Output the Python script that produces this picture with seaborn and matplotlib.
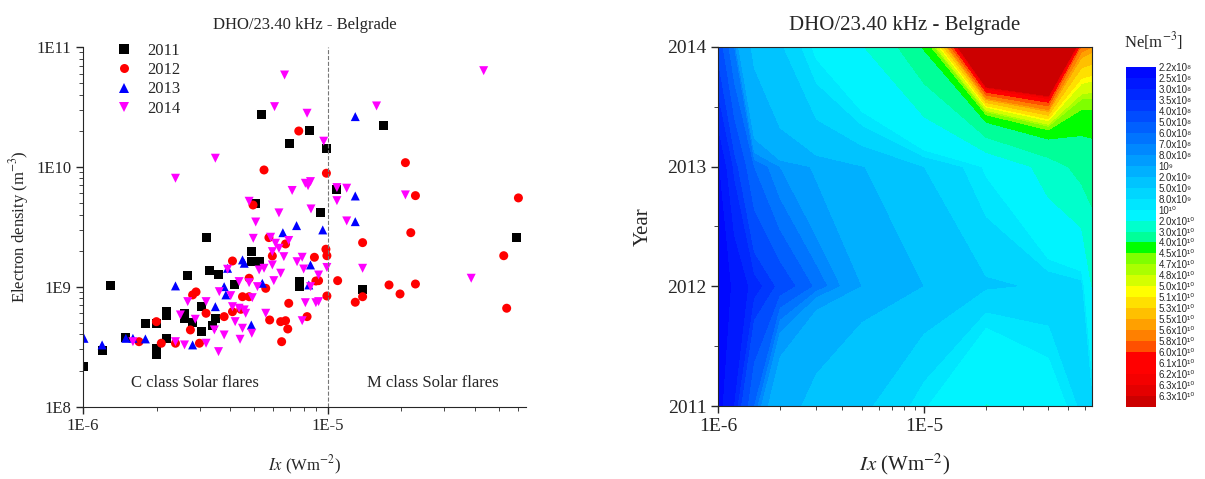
import numpy as np
import pandas as pd
import seaborn as sns
import matplotlib
matplotlib.use('Agg')
import matplotlib.pyplot as plt
from matplotlib.colors import ListedColormap, BoundaryNorm
from matplotlib.ticker import LogLocator, FixedLocator, FuncFormatter, NullFormatter

# ---- scatter data: log10(Ix) and log10(Ne) ----
years = ['2011', '2012', '2013', '2014']

lix_2011 = [-5.270, -5.073, -5.157, -5.005, -4.772, -5.294, -5.030, -5.497, -4.962, -4.226,
            -4.857, -5.312, -5.312, -5.278, -5.484, -5.446, -5.379, -5.115, -5.115, -5.517,
            -5.459, -5.470, -5.517, -5.886, -5.572, -5.660, -5.660, -5.585, -5.585, -5.552,
            -5.745, -5.700, -5.825, -5.657, -5.700, -5.700, -5.922, -5.999]
lne_2011 = [10.433, 10.299, 10.191, 10.155, 10.349, 9.696, 9.621, 9.411, 9.807, 9.413,
            8.973, 9.294, 9.207, 9.207, 9.136, 9.105, 9.015, 9.043, 9.001, 8.834,
            8.737, 8.681, 8.626, 9.009, 9.090, 8.792, 8.759, 8.779, 8.737, 8.701,
            8.696, 8.690, 8.579, 8.570, 8.487, 8.431, 8.467, 8.334]

lix_2012 = [-5.118, -5.260, -5.005, -5.305, -5.240, -4.682, -4.641, -4.220, -4.660, -4.857,
            -5.007, -5.003, -4.280, -5.037, -4.959, -4.749, -4.641, -4.704, -5.003, -4.857,
            -4.887, -4.268, -5.172, -5.226, -5.054, -5.253, -5.048, -5.159, -5.084, -5.237,
            -5.192, -5.172, -5.163, -5.188, -5.389, -5.321, -5.348, -5.321, -5.389, -5.355,
            -5.497, -5.423, -5.524, -5.552, -5.538, -5.561, -5.700, -5.771, -5.680, -5.622]
lne_2012 = [10.299, 9.974, 9.947, 9.682, 9.410, 10.035, 9.760, 9.741, 9.451, 9.368,
            9.313, 9.259, 9.259, 9.051, 9.051, 9.015, 9.023, 8.940, 8.923, 8.917,
            8.871, 8.821, 9.357, 9.257, 9.246, 8.987, 9.048, 8.862, 8.751, 8.723,
            8.709, 8.717, 8.648, 8.542, 9.215, 9.071, 8.917, 8.917, 8.792, 8.812,
            8.779, 8.751, 8.529, 8.932, 8.957, 8.640, 8.709, 8.542, 8.529, 8.529]

lix_2013 = [-5.127, -5.183, -5.020, -4.887, -4.887, -4.887, -5.070, -5.267, -5.077, -5.348,
            -5.341, -5.409, -5.423, -5.416, -5.459, -5.312, -5.622, -5.825, -5.796, -5.745,
            -5.552, -5.922, -5.996]
lne_2013 = [9.510, 9.451, 9.474, 10.419, 9.757, 9.543, 9.182, 9.029, 9.015, 9.224,
            9.196, 9.154, 9.001, 8.932, 8.834, 8.681, 9.007, 8.570, 8.570, 8.565,
            8.515, 8.515, 8.570]

lix_2014 = [-5.176, -5.217, -5.084, -5.016, -5.459, -5.622, -5.145, -5.091, -5.070, -5.080,
            -5.321, -5.199, -5.068, -5.294, -5.304, -5.159, -4.362, -4.800, -4.962, -4.922,
            -4.962, -4.682, -4.922, -5.003, -4.857, -5.037, -4.413, -5.037, -5.233, -5.213,
            -5.199, -5.226, -5.179, -5.104, -5.125, -5.226, -5.260, -5.098, -5.192, -5.220,
            -5.070, -5.091, -5.048, -5.253, -5.104, -5.409, -5.280, -5.362, -5.321, -5.287,
            -5.443, -5.396, -5.308, -5.497, -5.389, -5.362, -5.341, -5.335, -5.378, -5.348,
            -5.310, -5.463, -5.423, -5.497, -5.358, -5.446, -5.572, -5.602, -5.541, -5.796,
            -5.622, -5.585]
lne_2014 = [10.766, 10.502, 10.447, 10.214, 10.072, 9.905, 9.803, 9.863, 9.877, 9.843,
            9.713, 9.616, 9.649, 9.540, 9.404, 9.386, 10.802, 10.508, 9.827, 9.822,
            9.718, 9.766, 9.549, 9.161, 9.154, 9.098, 9.071, 8.876, 9.413, 9.363,
            9.321, 9.293, 9.251, 9.246, 9.209, 9.182, 9.154, 9.148, 9.113, 9.051,
            9.001, 8.867, 8.867, 8.779, 8.717, 9.146, 9.140, 9.043, 9.034, 9.001,
            8.959, 8.926, 8.909, 8.876, 8.834, 8.821, 8.807, 8.779, 8.709, 8.654,
            8.612, 8.640, 8.598, 8.529, 8.562, 8.459, 8.876, 8.765, 8.729, 8.542,
            8.542, 8.515]

# ---- contour data: Ne on an (Ix, year) grid ----
grid_ix = [1.0e-6, 1.2e-6, 1.5e-6, 2.0e-6, 3.0e-6, 5.0e-6, 1.0e-5, 2.0e-5, 4.0e-5, 5.8e-5, 6.5e-5]
grid_year = [2011, 2012, 2013, 2014]
ne_2011 = [2.3e8, 3.0e8, 6.0e8, 1.4e9, 2.5e9, 4.3e9, 9.5e9, 2.02e10, 1.3e10, 7.0e9, 5.5e9]
ne_2012 = [2.3e8, 2.55e8, 3.2e8, 4.2e8, 6.2e8, 1.0e9, 2.0e9, 4.5e9, 5.5e9, 6.5e9, 2.0e10]
ne_2013 = [2.4e8, 3.6e8, 6.0e8, 8.0e8, 1.05e9, 1.9e9, 5.0e9, 1.05e10, 2.5e10, 3.4e10, 3.5e10]
ne_2014 = [4.2e8, 7.0e8, 2.3e9, 4.5e9, 1.1e10, 1.95e10, 4.1e10, 9.0e10, 9.0e10, 5.7e10, 5.6e10]

ne_levels = [2.2e8, 2.5e8, 3.0e8, 3.5e8, 4.0e8, 5.0e8, 6.0e8, 7.0e8, 8.0e8, 1e9,
             2e9, 5e9, 8e9, 1e10, 2e10, 3e10, 4e10, 4.5e10, 4.7e10, 4.8e10,
             5.0e10, 5.1e10, 5.3e10, 5.5e10, 5.6e10, 5.8e10, 6.0e10, 6.1e10, 6.2e10, 6.3e10,
             6.35e10, 2e11]
ne_labels = ['2.2x10⁸', '2.5x10⁸', '3.0x10⁸', '3.5x10⁸', '4.0x10⁸', '5.0x10⁸', '6.0x10⁸',
             '7.0x10⁸', '8.0x10⁸', '10⁹', '2.0x10⁹', '5.0x10⁹', '8.0x10⁹', '10¹⁰',
             '2.0x10¹⁰', '3.0x10¹⁰', '4.0x10¹⁰', '4.5x10¹⁰', '4.7x10¹⁰', '4.8x10¹⁰',
             '5.0x10¹⁰', '5.1x10¹⁰', '5.3x10¹⁰', '5.5x10¹⁰', '5.6x10¹⁰', '5.8x10¹⁰',
             '6.0x10¹⁰', '6.1x10¹⁰', '6.2x10¹⁰', '6.3x10¹⁰', '6.3x10¹⁰']
band_colors = ['#0008ff', '#0018ff', '#0028ff', '#0038ff', '#004cff', '#0060ff', '#0074ff',
               '#0088ff', '#009cff', '#00b0ff', '#00c4ff', '#00d6ff', '#00e6ff', '#00f4ff',
               '#00ffcc', '#00ff99', '#00ff00', '#7fff00', '#aaff00', '#d4ff00', '#ffff00',
               '#ffe000', '#ffc000', '#ffa000', '#ff8000', '#ff5000', '#ff0000', '#ff0000',
               '#f40000', '#e40000', '#cc0000']

sns.set_style('ticks')
plt.rcParams['font.family'] = ['Liberation Serif', 'DejaVu Serif']
plt.rcParams['mathtext.fontset'] = 'stix'
plt.rcParams['xtick.direction'] = 'out'
plt.rcParams['ytick.direction'] = 'out'

fig = plt.figure(figsize=(12.05, 4.79), dpi=100)
ax1 = fig.add_axes([0.0689, 0.151, 0.368, 0.751])
ax2 = fig.add_axes([0.596, 0.1524, 0.310, 0.7495])
cax = fig.add_axes([0.9344, 0.1503, 0.0249, 0.7098])

# ---------------- left: scatter ----------------
frames = []
for yr, lx, ly in zip(years, [lix_2011, lix_2012, lix_2013, lix_2014],
                      [lne_2011, lne_2012, lne_2013, lne_2014]):
    frames.append(pd.DataFrame({'Ix': 10 ** np.array(lx), 'Ne': 10 ** np.array(ly), 'Year': yr}))
df = pd.concat(frames, ignore_index=True)

pal = dict(zip(years, ['black', 'red', 'blue', 'magenta']))
mk = dict(zip(years, ['s', 'o', '^', 'v']))
ax1.set_xscale('log')
ax1.set_yscale('log')
sns.scatterplot(data=df, x='Ix', y='Ne', hue='Year', style='Year', hue_order=years,
                style_order=years, palette=pal, markers=mk, s=42, linewidth=0, ax=ax1)
ax1.set_xlim(1e-6, 6.5e-5)
ax1.set_ylim(1e8, 1e11)
ax1.axvline(1e-5, color='#777777', ls='--', lw=0.8)
ax1.text(0.252, 0.055, 'C class Solar flares', transform=ax1.transAxes, ha='center', fontsize=12)
ax1.text(0.788, 0.055, 'M class Solar flares', transform=ax1.transAxes, ha='center', fontsize=12)
ax1.set_title('DHO/23.40 kHz - Belgrade', fontsize=12, pad=13)
ax1.set_xlabel(r'$\mathit{Ix}$ (Wm$^{-2}$)', fontsize=12, labelpad=14)
ax1.set_ylabel(r'Electron density (m$^{-3}$)', fontsize=12, labelpad=4)
ax1.xaxis.set_major_locator(FixedLocator([1e-6, 1e-5]))
ax1.xaxis.set_minor_locator(LogLocator(base=10, subs=np.arange(2, 10)))
ax1.xaxis.set_minor_formatter(NullFormatter())
ax1.xaxis.set_major_formatter(FuncFormatter(lambda v, _: '1E%d' % round(np.log10(v))))
ax1.yaxis.set_major_locator(FixedLocator([1e8, 1e9, 1e10, 1e11]))
ax1.yaxis.set_minor_locator(LogLocator(base=10, subs=np.arange(2, 10)))
ax1.yaxis.set_minor_formatter(NullFormatter())
ax1.yaxis.set_major_formatter(FuncFormatter(lambda v, _: '1E%d' % round(np.log10(v))))
ax1.tick_params(labelsize=12, length=5, width=1)
ax1.tick_params(which='minor', length=3)
sns.despine(ax=ax1)
ax1.legend(loc='upper left', bbox_to_anchor=(0.04, 1.03), frameon=False, fontsize=12,
           handletextpad=0.4, labelspacing=0.2, borderaxespad=0)

# ---------------- right: filled contour ----------------
X, Y = np.meshgrid(grid_ix, grid_year)
Z = np.array([ne_2011, ne_2012, ne_2013, ne_2014])
cmap = ListedColormap(band_colors)
norm = BoundaryNorm(ne_levels, ncolors=len(band_colors))
ax2.set_xscale('log')
cs = ax2.contourf(X, Y, Z, levels=ne_levels, cmap=cmap, norm=norm)
ax2.set_xlim(1e-6, 6.5e-5)
ax2.set_ylim(2011, 2014)
ax2.set_title('DHO/23.40 kHz - Belgrade', fontsize=15, pad=12)
ax2.set_xlabel(r'$\mathit{Ix}$ (Wm$^{-2}$)', fontsize=15, labelpad=12)
ax2.set_ylabel('Year', fontsize=15, labelpad=10)
ax2.xaxis.set_major_locator(FixedLocator([1e-6, 1e-5]))
ax2.xaxis.set_minor_locator(LogLocator(base=10, subs=np.arange(2, 10)))
ax2.xaxis.set_minor_formatter(NullFormatter())
ax2.xaxis.set_major_formatter(FuncFormatter(lambda v, _: '1E%d' % round(np.log10(v))))
ax2.yaxis.set_major_locator(FixedLocator(grid_year))
ax2.yaxis.set_minor_locator(FixedLocator([2011.5, 2012.5, 2013.5]))
ax2.tick_params(labelsize=14, length=5, width=1)
ax2.tick_params(which='minor', length=3)

cb = fig.colorbar(cs, cax=cax, spacing='uniform', ticks=ne_levels[:-1])
cb.ax.invert_yaxis()
cb.ax.minorticks_off()
cb.outline.set_visible(False)
cb.ax.set_yticklabels(ne_labels, fontsize=7, family=['Liberation Sans', 'DejaVu Sans'])
cb.ax.tick_params(length=0, pad=2)
fig.text(0.957, 0.9, r'Ne[m$^{-3}$]', ha='center', fontsize=12)

fig.savefig('out.png', dpi=100)
